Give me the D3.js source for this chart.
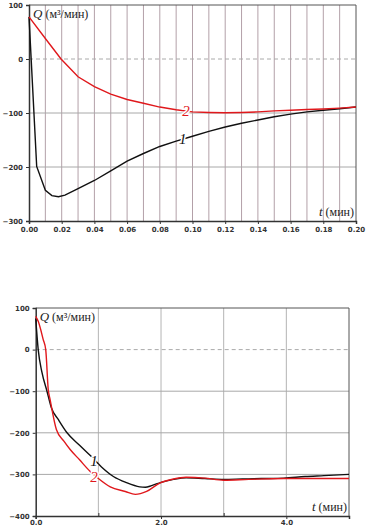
<!DOCTYPE html>
<html>
<head>
<meta charset="utf-8">
<script src="https://cdn.jsdelivr.net/npm/d3@7"></script>
<style>
  body { margin: 0; background: #fff; }
  svg { display: block; }
  .tick text { font-family: "DejaVu Sans", sans-serif; font-weight: bold; font-size: 7px; fill: #333; }
  .lbl { font-family: "Liberation Serif", serif; }
</style>
</head>
<body>
<svg id="chart" width="368" height="528"></svg>
<script>
// top panel: short time range
var topT  = [0, 0.0047, 0.01, 0.014, 0.018, 0.022, 0.03, 0.04, 0.05, 0.06, 0.07, 0.08, 0.09, 0.1, 0.11, 0.12, 0.13, 0.14, 0.15, 0.16, 0.17, 0.18, 0.19, 0.2];
var topQ1 = [78, -199, -243, -253, -255, -252, -240, -225, -207, -189, -175, -162, -152, -143, -134, -126, -119, -113, -107, -102, -98, -95, -92, -89];
var topQ2t = [0, 0.01, 0.0196, 0.03, 0.04, 0.05, 0.06, 0.07, 0.08, 0.09, 0.1, 0.11, 0.12, 0.13, 0.14, 0.15, 0.16, 0.17, 0.18, 0.19, 0.2];
var topQ2 = [78, 38, 0, -33, -51, -65, -75, -82, -89, -94, -98, -99, -99.5, -99, -98, -96, -95, -93.5, -92.5, -91, -89];
var topXTicks = [0, 0.02, 0.04, 0.06, 0.08, 0.1, 0.12, 0.14, 0.16, 0.18, 0.2];
var topYTicks = [100, 0, -100, -200, -300];

// bottom panel: long time range
var botT1 = [0, 0.04, 0.1, 0.18, 0.25, 0.36, 0.5, 0.7, 0.88, 1.05, 1.24, 1.45, 1.66, 1.75, 1.85, 2.0, 2.2, 2.4, 2.7, 3.0, 3.3, 3.6, 3.96, 4.3, 4.6, 5.0];
var botQ1 = [75, 0, -55, -100, -140, -168, -200, -230, -256, -282, -305, -320, -330, -331, -327, -319, -312, -308, -310, -312, -311, -310, -309, -305, -303, -300];
var botT2 = [0, 0.04, 0.12, 0.16, 0.2, 0.23, 0.33, 0.45, 0.55, 0.7, 0.87, 1.0, 1.19, 1.43, 1.59, 1.77, 1.98, 2.2, 2.4, 2.7, 3.0, 3.4, 3.96, 4.5, 5.0];
var botQ2 = [80, 68, 24, 0, -96, -120, -192, -220, -240, -265, -293, -310, -330, -341, -348, -341, -321, -311, -307, -309, -314, -312, -310, -310, -310];
var botXTicks = [0, 2, 4];
var botXMinor = [1, 3];
var botYTicks = [100, 0, -100, -200, -300, -400];

var svg = d3.select("#chart");

function panel(o) {
    var x = d3.scaleLinear().domain(o.xDomain).range([o.left, o.right]);
    var y = d3.scaleLinear().domain([100, o.yMin]).range([o.top, o.bottom]);
    var g = svg.append("g");

    // vertical grid
    g.selectAll(".vg").data(o.vGrid).enter().append("line")
        .attr("x1", d => x(d)).attr("x2", d => x(d))
        .attr("y1", o.top).attr("y2", o.bottom)
        .attr("stroke", o.vColor).attr("stroke-width", 1);

    // horizontal grid
    g.selectAll(".hg").data(o.yTicks.filter(d => d !== 100 && d !== o.yMin)).enter().append("line")
        .attr("x1", o.left).attr("x2", o.right)
        .attr("y1", d => y(d)).attr("y2", d => y(d))
        .attr("stroke", d => d === 0 ? "#aaa" : "#a8a8a8")
        .attr("stroke-dasharray", d => d === 0 ? "4,3" : null);

    // frame: top and right
    g.append("path")
        .attr("d", "M" + o.left + "," + o.top + "H" + o.right + "V" + o.bottom)
        .attr("fill", "none").attr("stroke", "#555");

    var xAxis = d3.axisBottom(x).tickValues(o.xTicks).tickSize(3).tickPadding(o.xPad).tickFormat(d3.format(o.xFmt));
    g.append("g").attr("transform", "translate(0," + o.bottom + ")").call(xAxis)
        .call(s => s.select(".domain").attr("stroke", "#333").attr("stroke-width", 1.5))
        .call(s => s.selectAll(".tick line").attr("stroke", "#333"));
    if (o.xMinor) {
        g.append("g").attr("transform", "translate(0," + o.bottom + ")")
            .call(d3.axisBottom(x).tickValues(o.xMinor).tickSize(-3).tickFormat(""))
            .call(s => s.select(".domain").remove())
            .call(s => s.selectAll(".tick line").attr("stroke", "#333"));
    }
    var yAxis = d3.axisLeft(y).tickValues(o.yTicks).tickSize(3).tickFormat(d3.format("d"));
    g.append("g").attr("transform", "translate(" + o.left + ",0)").call(yAxis)
        .call(s => s.select(".domain").attr("stroke", "#333").attr("stroke-width", 1.5))
        .call(s => s.selectAll(".tick line").attr("stroke", "#333"));

    var line = d3.line().x(d => x(d[0])).y(d => y(d[1])).curve(o.curve);
    o.series.forEach(function (s) {
        g.append("path").datum(d3.zip(s.t, s.q))
            .attr("d", line).attr("fill", "none")
            .attr("stroke", s.color).attr("stroke-width", 1.4);
    });
    o.series.forEach(function (s) {
        g.append("text").attr("class", "lbl")
            .attr("x", x(s.lx)).attr("y", y(s.ly))
            .attr("text-anchor", "middle").attr("dy", "0.35em")
            .attr("font-size", 15).attr("font-style", "italic")
            .attr("fill", s.color)
            .attr("stroke", "#fff").attr("stroke-width", 3).attr("paint-order", "stroke")
            .text(s.name);
    });

    var ql = g.append("text").attr("class", "lbl")
        .attr("x", o.left + 4).attr("y", o.top + 13).attr("font-size", 13).attr("fill", "#222");
    ql.append("tspan").attr("font-style", "italic").text("Q");
    ql.append("tspan").attr("font-size", 12).text(" (м³/мин)");

    var tl = g.append("text").attr("class", "lbl")
        .attr("x", o.right - 2).attr("y", o.bottom - 5).attr("text-anchor", "end")
        .attr("font-size", 13).attr("fill", "#222");
    tl.append("tspan").attr("font-style", "italic").text("t");
    tl.append("tspan").attr("font-size", 12).text(" (мин)");
}

panel({
    left: 29, right: 356, top: 5, bottom: 221,
    xDomain: [0, 0.2], yMin: -300,
    xTicks: topXTicks, xFmt: ".2f", xPad: 3, yTicks: topYTicks,
    vGrid: d3.range(1, 20).map(i => i / 100),
    vColor: "#b3a0a8",
    curve: d3.curveLinear,
    series: [
        { t: topT, q: topQ1, color: "#111", name: "1", lx: 0.094, ly: -148 },
        { t: topQ2t, q: topQ2, color: "#e0181c", name: "2", lx: 0.096, ly: -96 }
    ]
});

panel({
    left: 35.7, right: 349, top: 308, bottom: 516,
    xDomain: [0, 5], yMin: -400,
    xTicks: botXTicks, xFmt: ".1f", xPad: 1, xMinor: botXMinor, yTicks: botYTicks,
    vGrid: [1, 2, 3, 4],
    vColor: "#b4b4b4",
    curve: d3.curveMonotoneX,
    series: [
        { t: botT1, q: botQ1, color: "#111", name: "1", lx: 0.93, ly: -268 },
        { t: botT2, q: botQ2, color: "#e0181c", name: "2", lx: 0.93, ly: -305 }
    ]
});
</script>
</body>
</html>
